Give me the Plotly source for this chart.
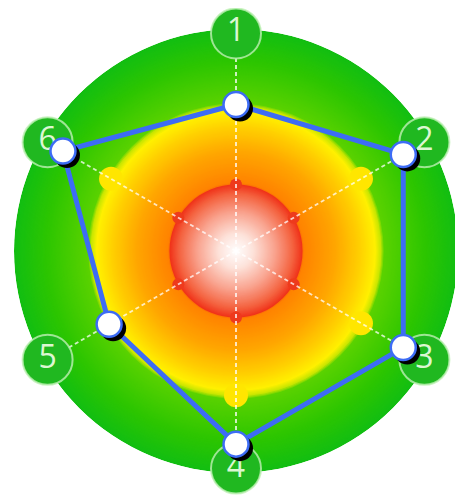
import plotly.graph_objects as go

# radar values (outer green rim = 100)
categories = ["1", "2", "3", "4", "5", "6"]
scores = [66, 87, 87, 87, 66, 90]
label_r = 98
r_max = 100

# page has an 8px body margin, so the figure is placed 8px in
W, H = 455, 490
cx, cy, rad = 228, 243, 222


def dom(dx=0, dy=0):
    yb = H - cy - dy
    return dict(x=[(cx - rad + dx) / W, (cx + rad + dx) / W],
                y=[(yb - rad) / H, (yb + rad) / H])


# background gradient stops: (radius, colour)
stops = [
    (0, "#ffffff"), (8, "#fde2da"), (18, "#f9a18c"), (26, "#f4623f"),
    (30, "#f0331a"), (30.6, "#ff8200"), (45, "#ffa600"), (56, "#ffd000"),
    (63, "#fff000"), (65.5, "#c8e600"), (67, "#5ad200"), (85, "#2ec600"),
    (100, "#12be12"),
]


def hex2rgb(h):
    return [int(h[i:i + 2], 16) for i in (1, 3, 5)]


def colour_at(r):
    for (r0, c0), (r1, c1) in zip(stops, stops[1:]):
        if r0 <= r <= r1:
            t = (r - r0) / (r1 - r0) if r1 > r0 else 0
            a, b = hex2rgb(c0), hex2rgb(c1)
            return "rgb(%d,%d,%d)" % tuple(round(a[i] + (b[i] - a[i]) * t) for i in range(3))
    return stops[-1][1]


radii = [r_max - i * 0.5 for i in range(200)]
ring_cols = [colour_at(r) for r in radii]

fig = go.Figure()

# background disc
fig.add_trace(go.Barpolar(
    r=radii, theta=[0] * len(radii), width=[360] * len(radii),
    marker=dict(color=ring_cols, line=dict(width=0)),
    subplot="polar", hoverinfo="skip", showlegend=False,
))
spoke_deg = [0, 60, 120, 180, 240, 300]
fig.add_trace(go.Scatterpolar(
    r=[65] * 6, theta=spoke_deg, mode="markers",
    marker=dict(size=24, color="#ffe600", line=dict(width=0)),
    subplot="polar", hoverinfo="skip", showlegend=False,
))
fig.add_trace(go.Scatterpolar(
    r=[30] * 6, theta=spoke_deg, mode="markers",
    marker=dict(size=12, color="#ee3a1c", line=dict(width=0)),
    subplot="polar", hoverinfo="skip", showlegend=False,
))

# labels + polygon
fig.add_trace(go.Scatterpolar(
    r=[label_r] * 6, theta=categories, mode="markers+text", text=categories,
    textposition="middle center",
    textfont=dict(family="Open Sans", size=32, color="#dcf7d2"),
    marker=dict(size=50, color="#20b820", line=dict(width=2, color="rgba(190,240,180,0.8)")),
    subplot="polar2", cliponaxis=False, hoverinfo="skip", showlegend=False,
))
fig.add_trace(go.Scatterpolar(
    r=scores + scores[:1], theta=categories + categories[:1], mode="lines",
    line=dict(color="#3d6cf5", width=5),
    subplot="polar2", cliponaxis=False, showlegend=False,
))
# marker shadow
fig.add_trace(go.Scatterpolar(
    r=scores, theta=categories, mode="markers",
    marker=dict(size=26, color="#000000", line=dict(width=0)),
    subplot="polar3", cliponaxis=False, hoverinfo="skip", showlegend=False,
))
fig.add_trace(go.Scatterpolar(
    r=scores, theta=categories, mode="markers",
    marker=dict(size=25, color="#ffffff", line=dict(width=2.5, color="#3d6cf5")),
    subplot="polar4", cliponaxis=False, showlegend=False,
))

hidden_radial = dict(visible=False, range=[0, r_max])
hidden_ang = dict(visible=False, direction="clockwise", rotation=90)
cat_ang = dict(visible=False, direction="clockwise", rotation=90,
               type="category", categoryarray=categories)

fig.update_layout(
    width=W, height=H,
    margin=dict(l=0, r=0, t=0, b=0),
    paper_bgcolor="white",
    showlegend=False,
    polar=dict(domain=dom(), bgcolor="rgba(0,0,0,0)", barmode="overlay",
               radialaxis=hidden_radial, angularaxis=hidden_ang),
    polar2=dict(domain=dom(), bgcolor="rgba(0,0,0,0)",
                radialaxis=hidden_radial,
                angularaxis=dict(visible=True, direction="clockwise", rotation=90,
                                 type="category", categoryarray=categories,
                                 showticklabels=False, ticks="", showline=False,
                                 showgrid=True, gridcolor="rgba(255,255,255,0.75)",
                                 gridwidth=1.5, griddash="4px,3px",
                                 layer="below traces")),
    polar3=dict(domain=dom(4, 4), bgcolor="rgba(0,0,0,0)",
                radialaxis=hidden_radial, angularaxis=cat_ang),
    polar4=dict(domain=dom(), bgcolor="rgba(0,0,0,0)",
                radialaxis=hidden_radial, angularaxis=cat_ang),
)

fig.write_html("out.html")
